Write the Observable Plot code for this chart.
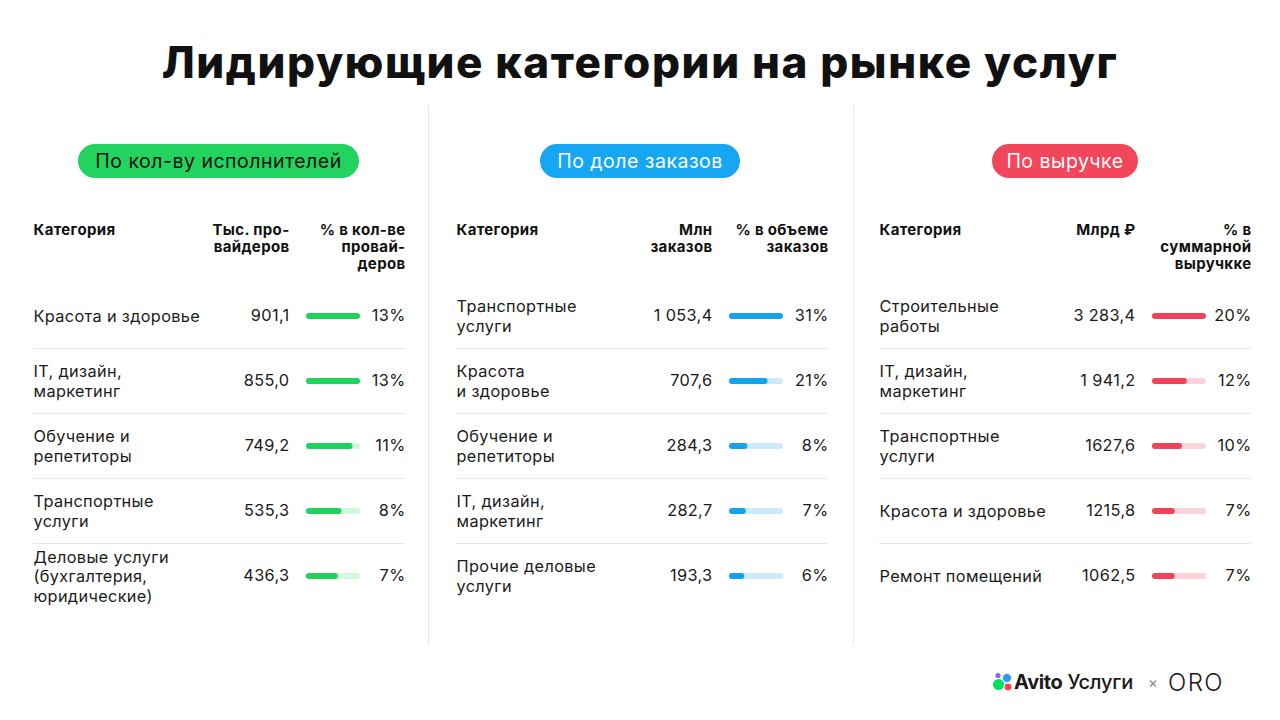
<!DOCTYPE html>
<html><head><meta charset="utf-8">
<script src="https://cdn.jsdelivr.net/npm/d3@7"></script>
<script src="https://cdn.jsdelivr.net/npm/@observablehq/plot@0.6"></script>
<style>
body{margin:0;background:#fff;font-family:Inter,"Noto Sans",sans-serif;color:#1a1a1a}
#root{position:relative;width:1280px;height:720px;overflow:hidden;background:#fff}
h1{position:absolute;top:40px;left:0;width:1280px;text-align:center;margin:0;font-size:44px;line-height:44px;font-weight:800;color:#111;letter-spacing:1.6px}
.vdiv{position:absolute;top:105px;width:1px;height:540px;background:#e6e6e6}
.pill{position:absolute;top:144px;height:34px;border-radius:17px;font-size:19.5px;letter-spacing:0.5px;display:flex;align-items:center;justify-content:center;font-weight:400}
.panel{position:absolute;top:210px}
#logo{position:absolute;top:668px;left:992px;height:28px;display:flex;align-items:center;white-space:nowrap}
</style></head>
<body><div id="root">
<h1>Лидирующие категории на рынке услуг</h1>
<div class="vdiv" style="left:428px"></div>
<div class="vdiv" style="left:853px"></div>
<div class="pill" style="left:78px;width:281px;background:#22d45f;color:#111">По кол-ву исполнителей</div>
<div class="pill" style="left:540px;width:200px;background:#17a6f1;color:#fff">По доле заказов</div>
<div class="pill" style="left:992px;width:146px;background:#f2465b;color:#fff">По выручке</div>
<div class="panel" id="p1" style="left:33px"></div>
<div class="panel" id="p2" style="left:456px"></div>
<div class="panel" id="p3" style="left:879px"></div>
<div id="logo">
<svg width="22" height="22" viewBox="0 0 22 22"><circle cx="6.5" cy="13.5" r="5.5" fill="#04e061"/><circle cx="15" cy="7" r="4.2" fill="#2f9bff"/><circle cx="6" cy="4.5" r="2.6" fill="#965eeb"/><circle cx="16" cy="16" r="3.4" fill="#ff4053"/></svg>
<span style="font-size:20px;font-weight:700;letter-spacing:-0.4px">Avito</span><span style="font-size:20px;font-weight:500;margin-left:5px;letter-spacing:-0.2px">Услуги</span>
<span style="font-size:15px;color:#888;margin-left:15px">×</span>
<span style="font-size:24px;font-weight:300;margin-left:10px;letter-spacing:1.5px">ORO</span>
</div>
</div>
<script>
// Panel 1: by number of providers
const cats1 = ["Красота и здоровье", "IT, дизайн,\nмаркетинг", "Обучение и\nрепетиторы", "Транспортные\nуслуги", "Деловые услуги\n(бухгалтерия,\nюридические)"];
const vals1 = ["901,1", "855,0", "749,2", "535,3", "436,3"];
const pcts1 = [13, 13, 11, 8, 7];
const heads1 = ["Категория", "Тыс. про-\nвайдеров", "% в кол-ве\nпровай-\nдеров"];

// Panel 2: by share of orders
const cats2 = ["Транспортные\nуслуги", "Красота\nи здоровье", "Обучение и\nрепетиторы", "IT, дизайн,\nмаркетинг", "Прочие деловые\nуслуги"];
const vals2 = ["1 053,4", "707,6", "284,3", "282,7", "193,3"];
const pcts2 = [31, 21, 8, 7, 6];
const heads2 = ["Категория", "Млн\nзаказов", "% в объеме\nзаказов"];

// Panel 3: by revenue
const cats3 = ["Строительные\nработы", "IT, дизайн,\nмаркетинг", "Транспортные\nуслуги", "Красота и здоровье", "Ремонт помещений"];
const vals3 = ["3 283,4", "1 941,2", "1627,6", "1215,8", "1062,5"];
const pcts3 = [20, 12, 10, 7, 7];
const heads3 = ["Категория", "Млрд ₽", "% в\nсуммарной\nвыручкке"];

const colors = ["#20d25c", "#15a3ef", "#ee4358"];
const tracks = ["#d2f7df", "#cdeafb", "#fbd3da"];

function panel(id, cats, vals, pcts, heads, color, track) {
  const maxP = d3.max(pcts);
  const data = cats.map((c, i) => ({cat: c, label: vals[i], pct: pcts[i], max: maxP}));
  const H = 420, mT = 73, mB = 22;
  const band = (H - mT - mB) / cats.length;
  const chart = Plot.plot({
    width: 372, height: H, marginTop: mT, marginBottom: mB, marginLeft: 0, marginRight: 0,
    x: {domain: [0, maxP], range: [276, 324], axis: null},
    y: {type: "band", domain: cats, axis: null, padding: 0},
    style: {fontFamily: "Inter, 'Noto Sans', sans-serif", fontSize: "16px", color: "#1a1a1a", background: "transparent", overflow: "visible", letterSpacing: "0.35px"},
    marks: [
      Plot.ruleY(data.slice(1), {y: "cat", stroke: "#e8e8e8", strokeWidth: 1, dy: -band / 2}),
      Plot.ruleY(data, {y: "cat", x1: () => 0, x2: "max", stroke: track, strokeWidth: 6, strokeLinecap: "round"}),
      Plot.ruleY(data, {y: "cat", x1: () => 0, x2: "pct", stroke: color, strokeWidth: 6, strokeLinecap: "round"}),
      Plot.text(data, {y: "cat", text: "cat", frameAnchor: "left", textAnchor: "start", lineHeight: 1.2, fontSize: 16.3, fill: "#1a1a1a"}),
      Plot.text(data, {y: "cat", x: () => 0, text: "label", textAnchor: "end", dx: -20, fontSize: 16.3, fill: "#1a1a1a"}),
      Plot.text(data, {y: "cat", text: d => d.pct + "%", frameAnchor: "right", textAnchor: "end", fontSize: 16.3, fill: "#1a1a1a"}),
      Plot.text([heads[0]], {text: d => d, frameAnchor: "top-left", textAnchor: "start", lineAnchor: "top", dy: -61, fontWeight: 700, fontSize: 15, lineHeight: 1.15, fill: "#111"}),
      Plot.text([heads[1]], {text: d => d, x: () => 0, frameAnchor: "top", textAnchor: "end", lineAnchor: "top", dx: -20, dy: -61, fontWeight: 700, fontSize: 15, lineHeight: 1.15, fill: "#111"}),
      Plot.text([heads[2]], {text: d => d, frameAnchor: "top-right", textAnchor: "end", lineAnchor: "top", dy: -61, fontWeight: 700, fontSize: 15, lineHeight: 1.15, fill: "#111"})
    ]
  });
  document.getElementById(id).appendChild(chart);
}
panel("p1", cats1, vals1, pcts1, heads1, colors[0], tracks[0]);
panel("p2", cats2, vals2, pcts2, heads2, colors[1], tracks[1]);
panel("p3", cats3, vals3, pcts3, heads3, colors[2], tracks[2]);
</script>
</body></html>
